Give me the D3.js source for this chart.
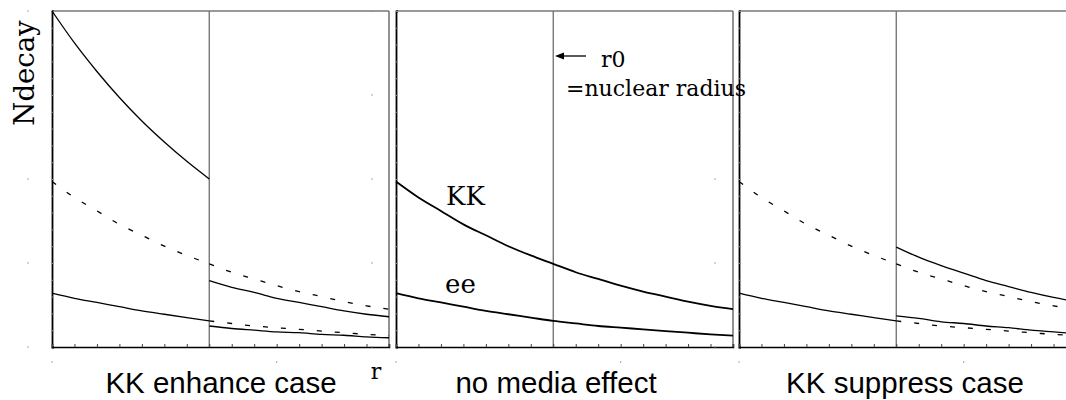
<!DOCTYPE html>
<html><head><meta charset="utf-8">
<script src="https://cdn.jsdelivr.net/npm/d3@7"></script>
<style>body{margin:0;background:#fff;} svg{display:block;}</style>
</head><body>
<svg id="c" width="1066" height="400"></svg>
<script>
// ---- data ----
const rInside = [0,1,2,3,4,5,6,7];
const rOutside = [7,8,9,10,11,12,13,14,15];
const rAll = [0,1,2,3,4,5,6,7,8,9,10,11,12,13,14,15];
const kkNormal = [1.97,1.78,1.62,1.46,1.33,1.20,1.09,0.99,0.89,0.81,0.73,0.66,0.60,0.54,0.49,0.45];
const eeNormal = [0.64,0.58,0.53,0.48,0.43,0.39,0.35,0.31,0.28,0.25,0.23,0.21,0.19,0.17,0.15,0.135];
const kkEnhancedIn = [4.0,3.62,3.28,2.97,2.69,2.44,2.21,2.0];
const kkEnhancedOut = [0.79,0.71,0.65,0.58,0.53,0.48,0.43,0.39,0.36];
const eeEnhancedOut = [0.25,0.22,0.20,0.18,0.17,0.15,0.14,0.12,0.11];
const kkSuppressedOut = [1.19,1.07,0.97,0.88,0.79,0.72,0.65,0.59,0.54];
const eeSuppressedOut = [0.37,0.34,0.30,0.28,0.25,0.23,0.20,0.18,0.16];
const r0 = 7;
const yMajorTicks = [0,1,2,3,4];
const xMajorTicks = [0,10];
const panelTitles = ["KK enhance case","no media effect","KK suppress case"];

// ---- layout ----
const svg = d3.select("#c");
const panelLeft = [52, 396, 739];
const panelW = 337, plotTop = 11, plotBottom = 347;

const zip = (xs, ys) => xs.map((x,i)=>[x, ys[i]]);
const rest = a => a.slice(7);

const series = [
  [ // enhance
    {d: zip(rInside, kkEnhancedIn), dash:false},
    {d: zip(rInside, kkNormal.slice(0,8)), dash:true},
    {d: zip(rInside, eeNormal.slice(0,8)), dash:false},
    {d: zip(rOutside, rest(kkNormal)), dash:true},
    {d: zip(rOutside, rest(eeNormal)), dash:true},
    {d: zip(rOutside, kkEnhancedOut), dash:false},
    {d: zip(rOutside, eeEnhancedOut), dash:false}
  ],
  [ // none
    {d: zip(rAll, kkNormal), dash:false, w:1.8},
    {d: zip(rAll, eeNormal), dash:false, w:1.8}
  ],
  [ // suppress
    {d: zip(rInside, kkNormal.slice(0,8)), dash:true},
    {d: zip(rInside, eeNormal.slice(0,8)), dash:false},
    {d: zip(rOutside, rest(kkNormal)), dash:true},
    {d: zip(rOutside, rest(eeNormal)), dash:true},
    {d: zip(rOutside, kkSuppressedOut), dash:false},
    {d: zip(rOutside, eeSuppressedOut), dash:false}
  ]
];

panelLeft.forEach((x0, p) => {
  const x = d3.scaleLinear().domain([0,15]).range([x0, x0+panelW]);
  const y = d3.scaleLinear().domain([0,4]).range([plotBottom, plotTop]);
  const g = svg.append("g");

  g.append("line").attr("x1",x0).attr("x2",x0+panelW).attr("y1",plotTop).attr("y2",plotTop)
    .attr("stroke","#777").attr("stroke-width",1.6);
  g.append("line").attr("x1",x0+panelW).attr("x2",x0+panelW).attr("y1",plotTop).attr("y2",plotBottom)
    .attr("stroke","#777").attr("stroke-width",1.6);

  g.append("line").attr("x1",x(r0)).attr("x2",x(r0)).attr("y1",plotTop).attr("y2",plotBottom)
    .attr("stroke","#777").attr("stroke-width",1.4);

  const ya = g.append("g").attr("transform",`translate(${x0},0)`)
    .call(d3.axisLeft(y).tickValues(d3.range(0,4.001,0.2)).tickSize(-2).tickFormat(""));
  ya.select(".domain").attr("stroke","#000").attr("stroke-width",1.8);
  ya.selectAll(".tick line").attr("stroke","#888");
  const xa = g.append("g").attr("transform",`translate(0,${plotBottom})`)
    .call(d3.axisBottom(x).tickValues(d3.range(0,15.001,1)).tickSize(-3).tickFormat(""));
  xa.select(".domain").attr("stroke","#000").attr("stroke-width",1.6);
  xa.selectAll(".tick line").attr("stroke","#444");

  g.selectAll(".yd").data(yMajorTicks).join("circle")
    .attr("cx", x0-24).attr("cy", d=>y(d)).attr("r",0.7).attr("fill","#888");
  g.selectAll(".xd").data(xMajorTicks).join("circle")
    .attr("cx", d=>x(d)).attr("cy", 362).attr("r",0.7).attr("fill","#888");

  const line = d3.line().x(d=>x(d[0])).y(d=>y(d[1])).curve(d3.curveMonotoneX);
  series[p].forEach(s => {
    g.append("path").attr("d", line(s.d)).attr("fill","none")
      .attr("stroke","#000").attr("stroke-width", s.w || 1.3)
      .attr("stroke-dasharray", s.dash ? "5,13" : null);
  });

  svg.append("text").attr("x", [221,556,905][p]).attr("y",393).attr("text-anchor","middle")
    .attr("font-family","Liberation Sans, Arial, sans-serif").attr("font-size",29.5)
    .text(panelTitles[p]);
});

const serif = "DejaVu Serif, serif";
svg.append("text").attr("transform","translate(34,73) rotate(-90)").attr("text-anchor","middle")
  .attr("font-family",serif).attr("font-size",27.5).text("Ndecay");
svg.append("text").attr("x",376).attr("y",379).attr("text-anchor","middle")
  .attr("font-family",serif).attr("font-size",22).text("r");
svg.append("text").attr("x",446).attr("y",205).attr("font-family",serif).attr("font-size",26).text("KK");
svg.append("text").attr("x",445).attr("y",293).attr("font-family",serif).attr("font-size",26).text("ee");
svg.append("text").attr("x",601).attr("y",67).attr("font-family",serif).attr("font-size",22).text("r0");
svg.append("text").attr("x",566).attr("y",96).attr("font-family",serif).attr("font-size",22).text("=nuclear radius");
svg.append("line").attr("x1",586).attr("x2",562).attr("y1",56).attr("y2",56).attr("stroke","#000").attr("stroke-width",1.3);
svg.append("path").attr("d","M555,56 L564,52.5 L564,59.5 Z").attr("fill","#000");
</script>
</body></html>
